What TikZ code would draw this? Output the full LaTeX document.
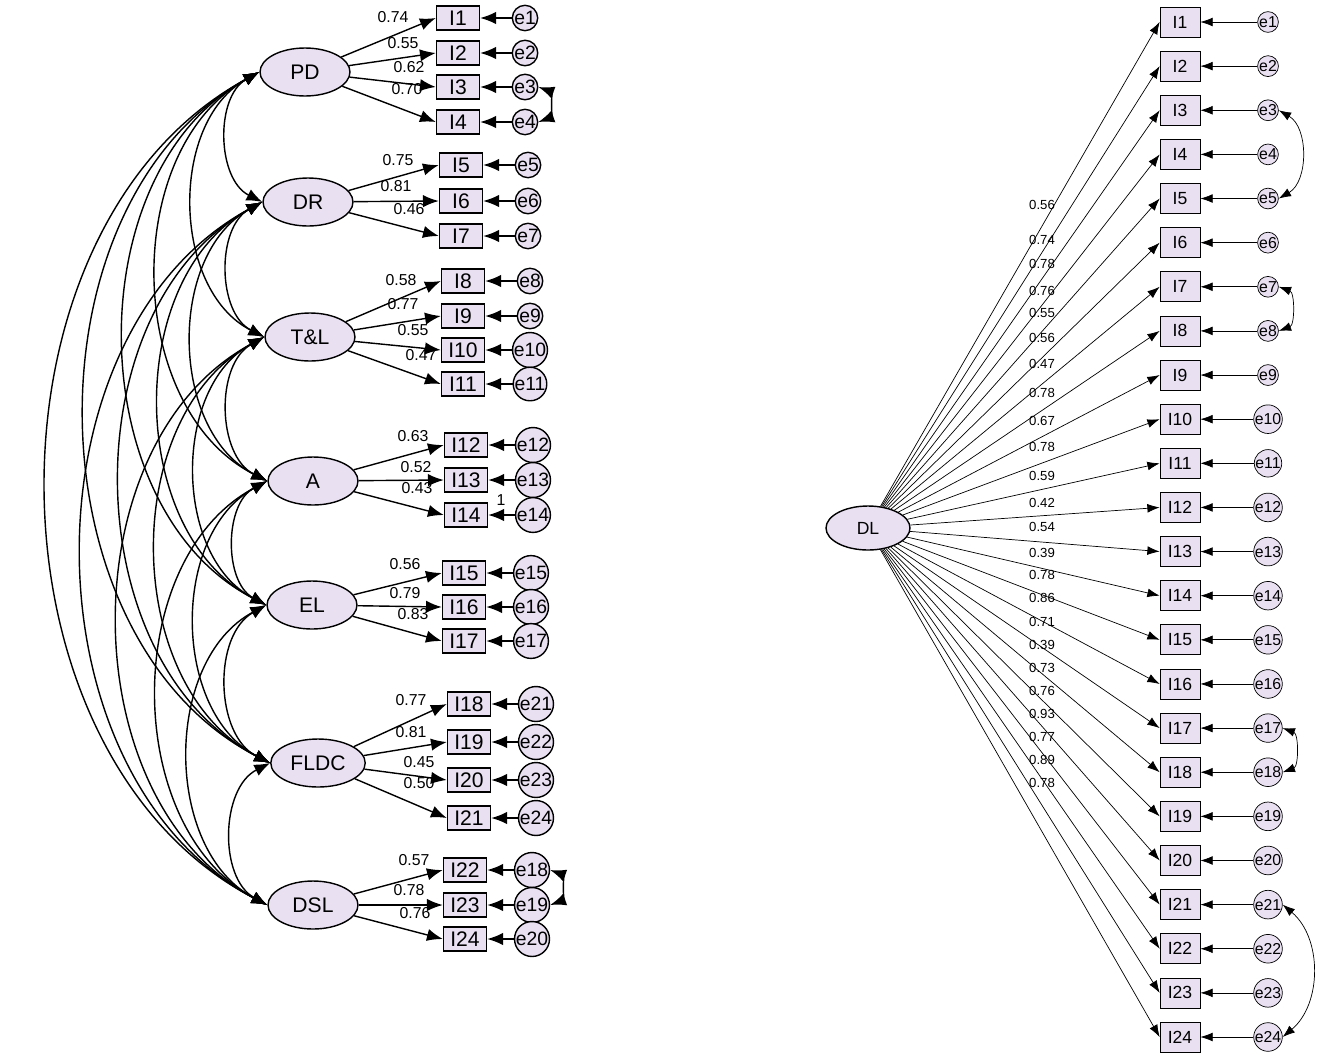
\documentclass[tikz,border=0pt]{standalone}
\usepackage{fontspec}
\setmainfont{Liberation Sans}
\usetikzlibrary{arrows.meta,shapes.geometric}
\definecolor{lav}{HTML}{E9E0F2}
\tikzset{
 lat/.style={ellipse,draw,thick,fill=lav,minimum width=1.8cm,minimum height=0.96cm,font=\fontsize{12}{12}\selectfont},
 box/.style={rectangle,draw,thick,fill=lav,minimum width=0.86cm,minimum height=0.48cm,inner sep=0pt,font=\fontsize{12}{12}\selectfont},
 err/.style={circle,draw,thick,fill=lav,minimum size=0.44cm,inner sep=0pt,font=\fontsize{11}{11}\selectfont},
 rbox/.style={rectangle,draw,fill=lav,minimum width=0.8cm,minimum height=0.6cm,inner sep=0pt,font=\fontsize{10}{10}\selectfont},
 rerr/.style={circle,draw,fill=lav,minimum size=0.4cm,inner sep=0pt,font=\fontsize{9}{9}\selectfont},
 load/.style={thick,-{Latex[length=9pt,width=7pt]}},
 rload/.style={-{Latex[length=7pt,width=5pt]}},
 cov/.style={thick,{Latex[length=9pt,width=7pt]}-{Latex[length=9pt,width=7pt]}},
 rcov/.style={{Latex[length=7pt,width=5pt]}-{Latex[length=7pt,width=5pt]}},
 lab/.style={font=\fontsize{9}{9}\selectfont,inner sep=0pt},
 rlab/.style={font=\fontsize{7.5}{7.5}\selectfont,inner sep=0pt}
}
\begin{document}
\begin{tikzpicture}[x=0.02cm,y=-0.02cm]
\useasboundingbox (0,0) rectangle (1324,1055);
\fill[white] (0,0) rectangle (1324,1055);
% latent factors
\node[lat] (F1) at (305,72) {PD};
\node[lat] (F2) at (308,202) {DR};
\node[lat] (F3) at (310,337) {T\&L};
\node[lat] (F4) at (313,481) {A};
\node[lat] (F5) at (312,605) {EL};
\node[lat] (F6) at (318,763) {FLDC};
\node[lat] (F7) at (313,905) {DSL};
% indicators
\foreach \f/\n/\bx/\y/\e/\v/\lx/\ly in {
 1/1/458/18/1/0.74/393/17, 1/2/458/53/2/0.55/403/43, 1/3/458/87/3/0.62/409/67, 1/4/458/122/4/0.70/407/89,
 2/5/461/165/5/0.75/398/160, 2/6/461/201/6/0.81/396/186, 2/7/461/236/7/0.46/409/209,
 3/8/463/281/8/0.58/401/280, 3/9/463/316/9/0.77/403/304, 3/10/463/350/10/0.55/413/330, 3/11/463/384/11/0.47/421/355,
 4/12/466/445/12/0.63/413/436, 4/13/466/480/13/0.52/416/467, 4/14/466/515/14/0.43/417/488,
 5/15/464/573/15/0.56/405/564, 5/16/464/607/16/0.79/405/593, 5/17/464/641/17/0.83/413/614,
 6/18/469/704/21/0.77/411/700, 6/19/469/742/22/0.81/411/732, 6/20/469/780/23/0.45/419/762, 6/21/469/818/24/0.50/419/783,
 7/22/465/870/18/0.57/414/860, 7/23/465/905/19/0.78/409/890, 7/24/465/939/20/0.76/415/913}{
 \node[box] (LI\n) at (\bx,\y) {I\n};
 \node[err] (LE\n) at (\bx+67,\y) {e\e};
 \draw[load] (F\f) -- (LI\n.west);
 \draw[load] (LE\n) -- (LI\n.east);
 \node[lab] at (\lx,\ly) {\v};
}
\node[lab] at (501,500) {1};
\draw[cov] (LE3.east) to[bend left=70] (LE4.east);
\draw[cov] (LE22.east) to[bend left=70] (LE23.east);
% factor covariances
\foreach \i in {1,...,6}{
 \pgfmathtruncatemacro{\s}{\i+1}
 \foreach \j in {\s,...,7}{
  \draw[cov] (F\i.west) to[bend right=62] (F\j.west);
 }
}
% right model
\node[lat,minimum width=1.68cm,minimum height=0.88cm,font=\fontsize{10}{10}\selectfont] (DL) at (868,528) {DL};
\foreach \k/\v/\ly in {1/0.56/205,2/0.74/240,3/0.78/264,4/0.76/291,5/0.55/313,6/0.56/338,7/0.47/364,8/0.78/393,
 9/0.67/421,10/0.78/447,11/0.59/476,12/0.42/503,13/0.54/527,14/0.39/553,15/0.78/575,16/0.86/598,
 17/0.71/622,18/0.39/645,19/0.73/668,20/0.76/691,21/0.93/714,22/0.77/737,23/0.89/760,24/0.78/783}{
 \pgfmathsetmacro{\yy}{22+44.13*(\k-1)}
 \node[rbox] (RI\k) at (1180,\yy) {I\k};
 \node[rerr] (RE\k) at (1268,\yy) {e\k};
 \draw[rload] (DL) -- (RI\k.west);
 \draw[rload] (RE\k) -- (RI\k.east);
 \node[rlab] at (1042,\ly) {\v};
}
\draw[rcov] (RE3.east) to[bend left=60] (RE5.east);
\draw[rcov] (RE7.east) to[bend left=70] (RE8.east);
\draw[rcov] (RE17.east) to[bend left=70] (RE18.east);
\draw[rcov] (RE21.east) to[bend left=50] (RE24.east);
\end{tikzpicture}
\end{document}
